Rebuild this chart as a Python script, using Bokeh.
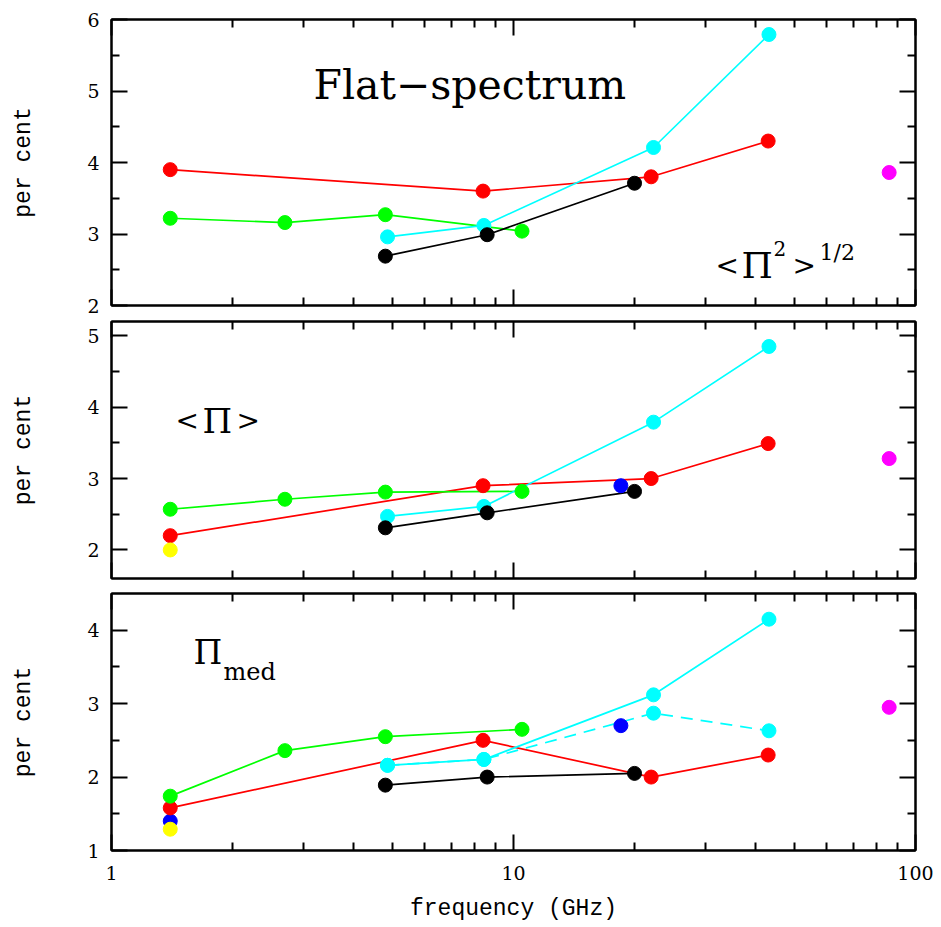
from bokeh.plotting import figure
from bokeh.layouts import column
from bokeh.models import Range1d, FixedTicker, LogAxis, LinearAxis, Label
from bokeh.embed import file_html
from bokeh.resources import INLINE

FONT = "DejaVu Serif"
LABEL_FONT = "Liberation Mono"

# ---------------- data ----------------
# frequencies (GHz)
f_red = [1.4, 8.4, 22.0, 43.0]
f_green = [1.4, 2.7, 4.8, 10.5]
f_cyan = [4.86, 8.44, 22.3, 43.2]
f_black = [4.8, 8.6, 20.0]
f_magenta = [86.0]
f_yellow = [1.4]
f_blue_mean = [18.5]
f_blue_med = [1.4, 18.5]

# panel 1 : <Pi^2>^1/2
rms_red = [3.9, 3.6, 3.8, 4.3]
rms_green = [3.22, 3.16, 3.27, 3.04]
rms_cyan = [2.96, 3.12, 4.21, 5.79]
rms_black = [2.69, 2.99, 3.71]
rms_magenta = [3.86]

# panel 2 : <Pi>
mean_red = [2.20, 2.90, 3.00, 3.49]
mean_green = [2.57, 2.71, 2.81, 2.82]
mean_cyan = [2.47, 2.61, 3.79, 4.85]
mean_black = [2.31, 2.52, 2.82]
mean_blue = [2.90]
mean_yellow = [2.00]
mean_magenta = [3.28]

# panel 3 : Pi_med
med_red = [1.58, 2.50, 2.00, 2.30]
med_green = [1.74, 2.36, 2.55, 2.65]
med_cyan = [2.16, 2.24, 3.12, 4.15]
med_cyan_alt = [2.16, 2.24, 2.87, 2.63]
med_black = [1.89, 2.00, 2.05]
med_blue = [1.40, 2.70]
med_yellow = [1.29]
med_magenta = [2.95]

x_major = [1, 10, 100]
x_minor = [2, 3, 4, 5, 6, 7, 8, 9, 20, 30, 40, 50, 60, 70, 80, 90]
x_tick_labels = {1: "1", 10: "10", 100: "100"}

RED = "#ff0000"
GREEN = "#00ff00"
CYAN = "#00ffff"
BLACK = "#000000"
BLUE = "#0000ff"
YELLOW = "#ffff00"
MAGENTA = "#ff00ff"

x_range = Range1d(1, 100)


def style_axis(ax, labels):
    ax.axis_line_width = 2
    ax.axis_line_color = "black"
    ax.major_tick_line_width = 2
    ax.minor_tick_line_width = 2
    ax.major_tick_in = 16
    ax.major_tick_out = 0
    ax.minor_tick_in = 8
    ax.minor_tick_out = 0
    ax.major_label_text_font = FONT
    if labels:
        ax.major_label_text_color = "black"
        ax.major_label_text_font_size = "19px"
        ax.major_label_standoff = 12
    else:
        ax.major_label_text_color = None
        ax.major_label_text_alpha = 0
        ax.major_label_text_font_size = "2px"
        ax.major_label_standoff = 0


def make_panel(yrange, ymaj, ymin, top, fh, bottom, xlabels):
    p = figure(width=941, height=top + fh + bottom, x_axis_type="log",
               x_range=x_range, y_range=Range1d(*yrange),
               output_backend="svg", toolbar_location=None,
               min_border_left=111, min_border_right=26,
               min_border_top=top, min_border_bottom=bottom)
    p.background_fill_color = "white"
    p.border_fill_color = "white"
    p.outline_line_color = "black"
    p.outline_line_width = 2
    p.xgrid.visible = False
    p.ygrid.visible = False

    xt = FixedTicker(ticks=x_major, minor_ticks=x_minor)
    yt = FixedTicker(ticks=ymaj, minor_ticks=ymin)

    p.xaxis.ticker = xt
    style_axis(p.xaxis[0], xlabels)
    if xlabels:
        p.xaxis.major_label_overrides = x_tick_labels
        p.xaxis.major_label_standoff = 15
        p.xaxis.axis_label = "frequency (GHz)"
        p.xaxis.axis_label_text_font = LABEL_FONT
        p.xaxis.axis_label_text_font_size = "23px"
        p.xaxis.axis_label_text_font_style = "normal"
        p.xaxis.axis_label_text_color = "black"
        p.xaxis.axis_label_standoff = 13

    p.yaxis.ticker = yt
    style_axis(p.yaxis[0], True)
    p.yaxis.axis_label = "per cent"
    p.yaxis.axis_label_text_font = LABEL_FONT
    p.yaxis.axis_label_text_font_size = "23px"
    p.yaxis.axis_label_text_font_style = "normal"
    p.yaxis.axis_label_text_color = "black"
    p.yaxis.axis_label_standoff = 47

    top_ax = LogAxis(ticker=FixedTicker(ticks=x_major, minor_ticks=x_minor))
    style_axis(top_ax, False)
    p.add_layout(top_ax, "above")
    right_ax = LinearAxis(ticker=FixedTicker(ticks=ymaj, minor_ticks=ymin))
    style_axis(right_ax, False)
    p.add_layout(right_ax, "right")
    return p


def series(p, f, v, color, dash="solid"):
    if len(f) > 1:
        p.line(f, v, line_color=color, line_width=1.7, line_dash=dash)


def dots(p, f, v, color):
    p.scatter(f, v, size=14, marker="circle", fill_color=color, line_color=color)


# ---------------- panel 1 ----------------
p1 = make_panel((2, 6), [2, 3, 4, 5, 6], [2.5, 3.5, 4.5, 5.5], 19, 286, 10, False)
series(p1, f_red, rms_red, RED)
series(p1, f_green, rms_green, GREEN)
series(p1, f_cyan, rms_cyan, CYAN)
series(p1, f_black, rms_black, BLACK)
dots(p1, f_red, rms_red, RED)
dots(p1, f_green, rms_green, GREEN)
dots(p1, f_cyan, rms_cyan, CYAN)
dots(p1, f_black, rms_black, BLACK)
dots(p1, f_magenta, rms_magenta, MAGENTA)

p1.add_layout(Label(x=3.18, y=5.077, text="Flat\u2212spectrum", text_font=FONT,
                    text_font_size="41px", text_baseline="alphabetic", text_color="black"))
for txt, dx, dy, fs in [("<", 0, 0, "28px"), ("\u03a0", 26, 0, "36px"), ("2", 58, 17, "20px"),
                        (">", 77, 0, "28px"), ("1/2", 104, 13, "22px")]:
    p1.add_layout(Label(x=31.8, y=2.56, x_offset=dx, y_offset=dy, text=txt, text_font=FONT,
                        text_font_size=fs, text_baseline="alphabetic", text_color="black"))

# ---------------- panel 2 ----------------
p2 = make_panel((1.6, 5.2), [2, 3, 4, 5], [2.5, 3.5, 4.5], 6, 257, 7, False)
series(p2, f_red, mean_red, RED)
series(p2, f_green, mean_green, GREEN)
series(p2, f_cyan, mean_cyan, CYAN)
series(p2, f_black, mean_black, BLACK)
dots(p2, f_blue_mean, mean_blue, BLUE)
dots(p2, f_red, mean_red, RED)
dots(p2, f_green, mean_green, GREEN)
dots(p2, f_cyan, mean_cyan, CYAN)
dots(p2, f_black, mean_black, BLACK)
dots(p2, f_yellow, mean_yellow, YELLOW)
dots(p2, f_magenta, mean_magenta, MAGENTA)
for txt, dx, fs in [("<", 0, "28px"), ("\u03a0", 27, "34px"), (">", 61, "28px")]:
    p2.add_layout(Label(x=1.443, y=3.81, x_offset=dx, text=txt, text_font=FONT,
                        text_font_size=fs, text_baseline="alphabetic", text_color="black"))

# ---------------- panel 3 ----------------
p3 = make_panel((1, 4.5), [1, 2, 3, 4], [1.5, 2.5, 3.5], 8, 257, 77, True)
series(p3, f_red, med_red, RED)
series(p3, f_green, med_green, GREEN)
series(p3, f_cyan, med_cyan, CYAN)
series(p3, f_cyan, med_cyan_alt, CYAN, dash="12 8")
series(p3, f_black, med_black, BLACK)
dots(p3, f_blue_med, med_blue, BLUE)
dots(p3, f_red, med_red, RED)
dots(p3, f_green, med_green, GREEN)
dots(p3, f_cyan, med_cyan, CYAN)
dots(p3, f_cyan, med_cyan_alt, CYAN)
dots(p3, f_black, med_black, BLACK)
dots(p3, f_yellow, med_yellow, YELLOW)
dots(p3, f_magenta, med_magenta, MAGENTA)
p3.add_layout(Label(x=1.6, y=3.69, text="\u03a0", text_font=FONT, text_font_size="33px",
                    text_baseline="alphabetic", text_color="black"))
p3.add_layout(Label(x=1.6, y=3.69, x_offset=30, y_offset=-19, text="med", text_font=FONT,
                    text_font_size="24px", text_baseline="alphabetic", text_color="black"))

layout = column(p1, p2, p3, spacing=0)
open("out.html", "w").write(file_html(layout, INLINE))
